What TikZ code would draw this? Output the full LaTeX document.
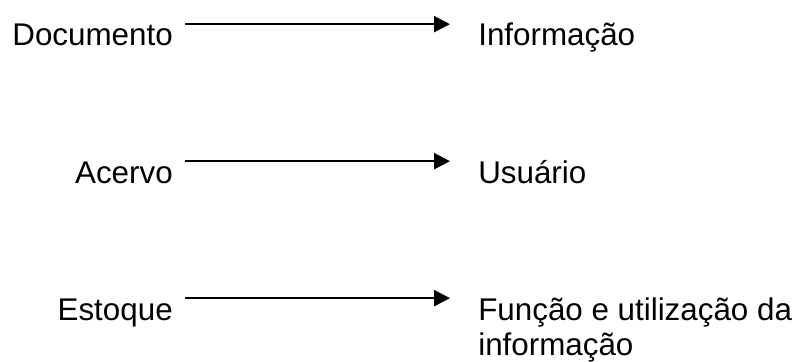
\documentclass[tikz,border=0pt]{standalone}
\usepackage{fontspec}
\setmainfont{Liberation Sans}
\usepackage{tikz}
\usetikzlibrary{arrows.meta, positioning, calc}

\begin{document}
\begin{tikzpicture}[
    x=0.025cm, y=-0.025cm,
    term/.style={inner sep=0pt, font=\fontsize{22.3}{25}\selectfont},
    src/.style={term, anchor=base east},
    dst/.style={term, anchor=base west},
    arr/.style={-{Triangle[length=11.3pt, width=11.3pt]}, line width=1.6pt, draw=black},
]
\useasboundingbox (0,0) rectangle (800,361);
\node[src] (doc) at (173,46) {Documento};
\node[dst] (info) at (478,46) {Informação};
\node[src] (acervo) at (173,183) {Acervo};
\node[dst] (user) at (478,183) {Usuário};
\node[src] (estoque) at (173,320) {Estoque};
\node[dst] (funcao) at (478,320) {\vtop{\hbox{Função e utilização da}\hbox{informação}}};

\draw[arr] ($(doc.north east)+(12,0)$) -- ($(info.west |- doc.north east)+(-28,0)$);
\draw[arr] ($(acervo.north east)+(12,0)$) -- ($(user.west |- acervo.north east)+(-28,0)$);
\draw[arr] ($(estoque.north east)+(12,0)$) -- ($(funcao.west |- estoque.north east)+(-28,0)$);
\end{tikzpicture}
\end{document}
